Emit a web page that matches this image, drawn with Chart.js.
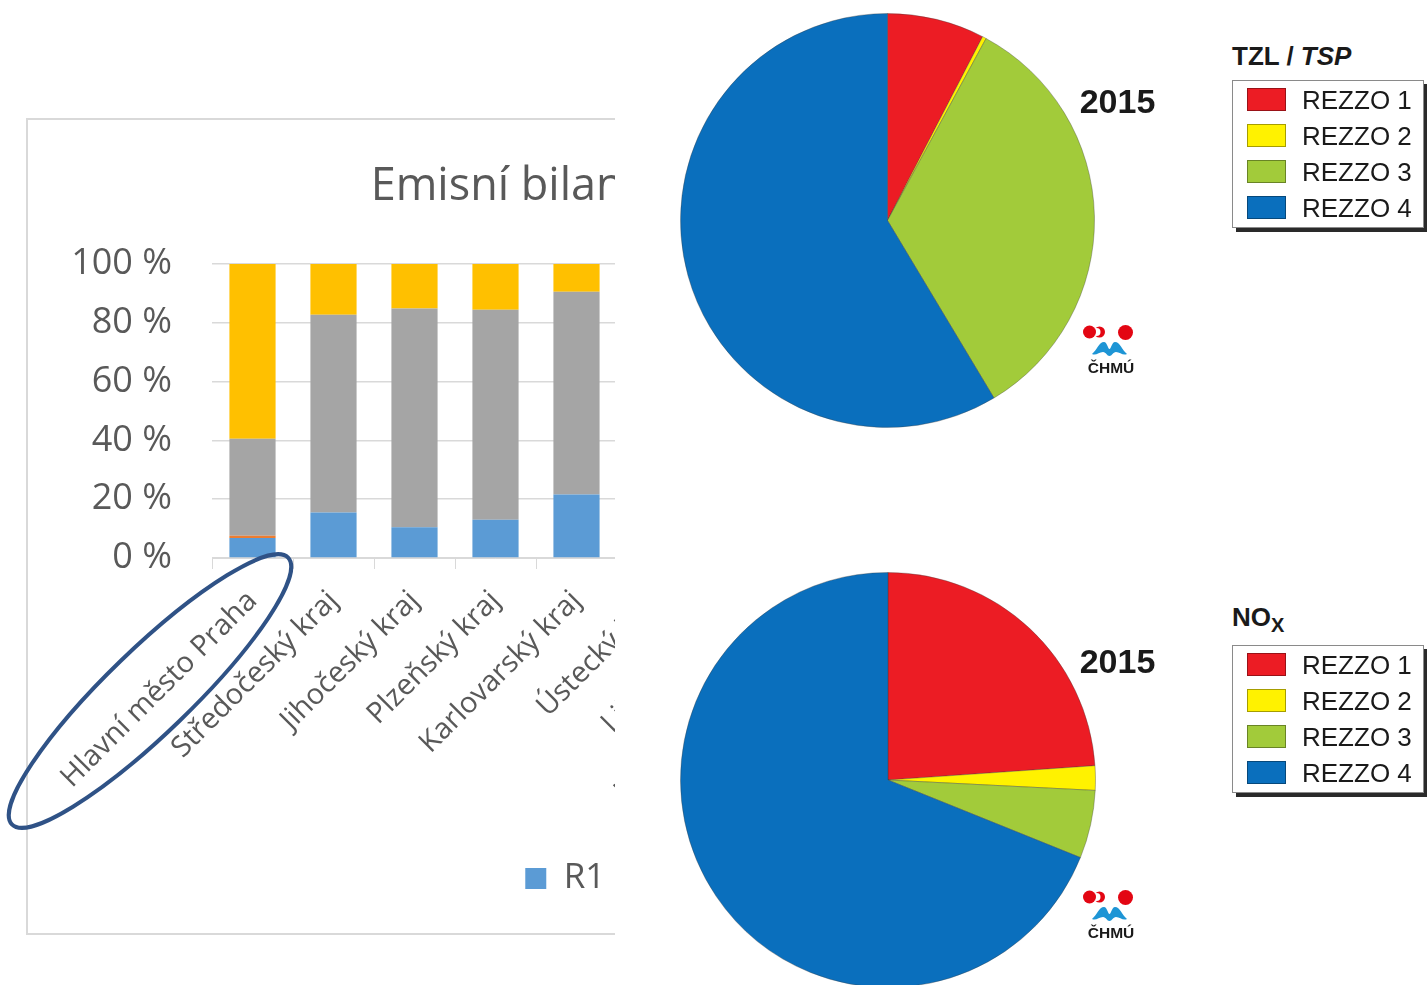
<!DOCTYPE html>
<html>
<head>
<meta charset="utf-8">
<script src="https://cdn.jsdelivr.net/npm/chart.js@4.4.1/dist/chart.umd.min.js"></script>
<style>
  body { margin: 0; width: 1427px; height: 985px; overflow: hidden; background: #fff; position: relative; font-family: "Liberation Sans", Arial, sans-serif; }
  #barClip { position: absolute; left: 0; top: 0; width: 615px; height: 985px; overflow: hidden; }
  #panel { position: absolute; left: 26px; top: 118px; width: 1344px; height: 817px; border: 2px solid #d9d9d9; box-sizing: border-box; background: #fff; }
  #panel canvas { position: absolute; left: 1px; top: 0; }
  .pie { position: absolute; left: 680px; }
  .year { position: absolute; left: 1070px; width: 95px; text-align: center; font-weight: bold; font-size: 34px; line-height: 40px; color: #1a1a1a; }
  .legTitle { position: absolute; left: 1232px; font-weight: bold; font-size: 26px; line-height: 30px; color: #1a1a1a; }
  .legTitle sub { font-size: 20px; vertical-align: -6px; }
  .legBox { position: absolute; left: 1232px; width: 192px; height: 148px; border: 1px solid #8a8a8a; box-sizing: border-box; background: #fff; box-shadow: 4px 4px 0 #2a2a2a; }
  .legRow { position: absolute; left: 0; height: 30px; width: 190px; }
  .legRow .sw { position: absolute; left: 14px; top: 3px; width: 39px; height: 23px; box-sizing: border-box; border: 1px solid rgba(0,0,0,0.35); }
  .legRow .tx { position: absolute; left: 69px; top: 0; font-size: 26px; line-height: 30px; color: #1a1a1a; }
  .logo { position: absolute; left: 1083px; width: 52px; height: 54px; }
  #ring { position: absolute; left: 0; top: 0; pointer-events: none; }
</style>
</head>
<body>
<div id="barClip">
  <div id="panel"><canvas id="barChart" width="1339" height="813"></canvas></div>
</div>

<canvas id="pieTzl" class="pie" width="415" height="415" style="top:13px"></canvas>
<canvas id="pieNox" class="pie" width="416" height="416" style="top:572px"></canvas>

<div class="year" style="top:81px">2015</div>
<div class="year" style="top:641px">2015</div>

<div class="legTitle" style="top:41px">TZL / <i>TSP</i></div>
<div class="legTitle" style="top:602px">NO<sub>X</sub></div>
<div class="legBox" id="legTzl" style="top:80px"></div>
<div class="legBox" id="legNox" style="top:645px"></div>

<svg class="logo" style="top:323px" viewBox="0 0 52 54">
  <circle cx="16.5" cy="9" r="5.5" fill="#e30613"/>
  <circle cx="13.5" cy="9" r="4" fill="#fff"/>
  <circle cx="6.5" cy="9" r="6.5" fill="#e30613"/>
  <circle cx="42.5" cy="9.5" r="7.5" fill="#e30613"/>
  <path d="M9 31 C14 27 16 19 21 19 C24 19 25 26 26.5 26 C28 26 29 19 32 19 C37 19 39 27 44 31 C40 33 37 29 33 29 C30 29 29 33 26.5 33 C24 33 23 29 20 29 C16 29 13 33 9 31 Z" fill="#1e95d5"/>
  <text x="28" y="50" text-anchor="middle" font-family="Liberation Sans" font-weight="bold" font-size="15.5" fill="#1a1a1a">ČHMÚ</text>
</svg>
<svg class="logo" style="top:888px" viewBox="0 0 52 54">
  <circle cx="16.5" cy="9" r="5.5" fill="#e30613"/>
  <circle cx="13.5" cy="9" r="4" fill="#fff"/>
  <circle cx="6.5" cy="9" r="6.5" fill="#e30613"/>
  <circle cx="42.5" cy="9.5" r="7.5" fill="#e30613"/>
  <path d="M9 31 C14 27 16 19 21 19 C24 19 25 26 26.5 26 C28 26 29 19 32 19 C37 19 39 27 44 31 C40 33 37 29 33 29 C30 29 29 33 26.5 33 C24 33 23 29 20 29 C16 29 13 33 9 31 Z" fill="#1e95d5"/>
  <text x="28" y="50" text-anchor="middle" font-family="Liberation Sans" font-weight="bold" font-size="15.5" fill="#1a1a1a">ČHMÚ</text>
</svg>

<svg id="ring" width="1427" height="985">
  <ellipse cx="150" cy="691" rx="192" ry="42" transform="rotate(-44 150 691)" fill="none" stroke="#2f5286" stroke-width="4"/>
</svg>

<script>
// Emission shares by region (%), stacked R1..R4 - only the first five regions are visible
const regions = ['Hlavní město Praha', 'Středočeský kraj', 'Jihočeský kraj', 'Plzeňský kraj',
  'Karlovarský kraj', 'Ústecký kraj', 'Liberecký kraj', 'Královéhradecký kraj', 'Pardubický kraj',
  'Kraj Vysočina', 'Jihomoravský kraj', 'Olomoucký kraj', 'Zlínský kraj', 'Moravskoslezský kraj'];
const r1 = [6.8, 15.5, 10.5, 13.0, 21.6, null, null, null, null, null, null, null, null, null];
const r2 = [0.8, 0, 0, 0, 0, null, null, null, null, null, null, null, null, null];
const r3 = [33.0, 67.2, 74.4, 71.4, 69.0, null, null, null, null, null, null, null, null, null];
const r4 = [59.4, 17.3, 15.1, 15.6, 9.4, null, null, null, null, null, null, null, null, null];
const yTicks = [0, 20, 40, 60, 80, 100];

// REZZO shares for 2015 (%)
const rezzo = ['REZZO 1', 'REZZO 2', 'REZZO 3', 'REZZO 4'];
const tzl2015 = [7.6, 0.3, 33.5, 58.6];
const nox2015 = [23.9, 1.9, 5.3, 68.9];

const rezzoColors = ['#ec1c24', '#fff200', '#a2cb3a', '#0a6fbd'];
const excelText = '#595959';
const excelGrid = '#d9d9d9';

// Excel centres its legend a little right of the canvas middle
const legendShift = {
  id: 'legendShift',
  afterLayout(chart) {
    chart.legend.left += 25;
    chart.legend.right += 25;
  }
};

new Chart(document.getElementById('barChart'), {
  type: 'bar',
  data: {
    labels: regions,
    datasets: [
      { label: 'R1', data: r1, backgroundColor: '#5b9bd5' },
      { label: 'R2', data: r2, backgroundColor: '#ed7d31' },
      { label: 'R3', data: r3, backgroundColor: '#a5a5a5' },
      { label: 'R4', data: r4, backgroundColor: '#ffc000' }
    ]
  },
  options: {
    responsive: false,
    animation: false,
    layout: { padding: { left: 0, right: 22, top: 0, bottom: 27 } },
    datasets: { bar: { categoryPercentage: 1, barPercentage: 0.57 } },
    scales: {
      x: {
        stacked: true,
        grid: { offset: true, drawOnChartArea: false, tickLength: 11, color: excelGrid },
        border: { color: excelGrid },
        ticks: {
          minRotation: 45, maxRotation: 45, autoSkip: false, padding: 15,
          color: excelText, font: { family: 'Open Sans', size: 29 }
        },
        afterFit: scale => { scale.height = 285; }
      },
      y: {
        stacked: true,
        min: 0, max: 100,
        afterBuildTicks: scale => { scale.ticks = yTicks.map(v => ({ value: v })); },
        ticks: {
          padding: 40, color: excelText,
          font: { family: 'Open Sans', size: 36 },
          callback: v => v + ' %'
        },
        grid: { color: excelGrid, drawTicks: false, lineWidth: 1.5 },
        border: { display: false },
        afterFit: scale => { scale.width = 183; }
      }
    },
    plugins: {
      title: {
        display: true,
        text: 'Emisní bilance TZL podle krajů',
        color: excelText,
        font: { family: 'Open Sans', size: 45, weight: 'normal' },
        padding: { top: 40, bottom: 50 }
      },
      legend: {
        position: 'bottom',
        labels: {
          boxWidth: 21, boxHeight: 21, padding: 18,
          color: excelText, font: { family: 'Open Sans', size: 35 }
        }
      },
      tooltip: { enabled: false }
    }
  },
  plugins: [legendShift]
});

function makePie(id, values) {
  new Chart(document.getElementById(id), {
    type: 'pie',
    data: {
      labels: rezzo,
      datasets: [{
        data: values,
        backgroundColor: rezzoColors,
        borderColor: 'rgba(60,60,60,0.35)',
        borderWidth: 1
      }]
    },
    options: {
      responsive: false,
      animation: false,
      layout: { padding: 0 },
      plugins: { legend: { display: false }, tooltip: { enabled: false } }
    }
  });
}
makePie('pieTzl', tzl2015);
makePie('pieNox', nox2015);

// framed legends beside the pies
function fillLegend(id) {
  const box = document.getElementById(id);
  rezzo.forEach((name, i) => {
    const row = document.createElement('div');
    row.className = 'legRow';
    row.style.top = (4 + i * 36) + 'px';
    row.innerHTML = '<div class="sw" style="background:' + rezzoColors[i] + '"></div><div class="tx">' + name + '</div>';
    box.appendChild(row);
  });
}
fillLegend('legTzl');
fillLegend('legNox');
</script>
</body>
</html>
